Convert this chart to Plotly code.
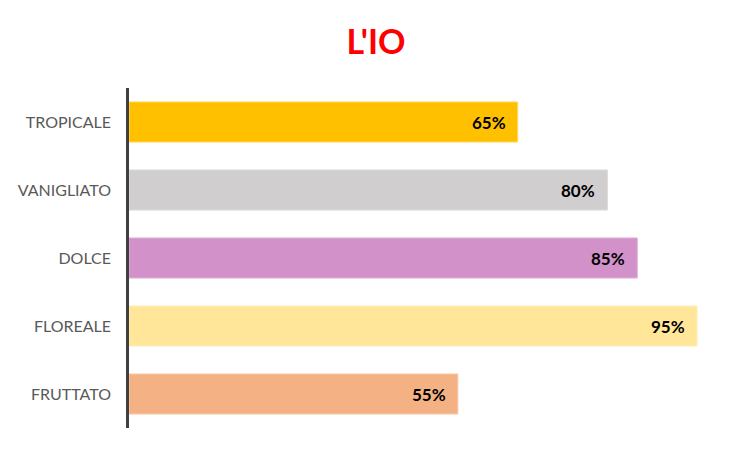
import plotly.graph_objs as go

# dati
categorie = ["TROPICALE", "VANIGLIATO", "DOLCE", "FLOREALE", "FRUTTATO"]
valori = [0.65, 0.80, 0.85, 0.95, 0.55]
colori = ["#FFC000", "#D0CECE", "#D291C9", "#FFE699", "#F4B183"]
bordi = ["#FFD966", "#DDDBDB", "#E0B2D9", "#FFF0C0", "#F8CBAD"]
etichette = ["65%", "80%", "85%", "95%", "55%"]

fig = go.Figure()

fig.add_trace(
    go.Bar(
        y=categorie,
        x=valori,
        orientation="h",
        width=0.59,
        marker=dict(color=colori, line=dict(color=bordi, width=1)),
        hoverinfo="skip",
    )
)

# etichette dei valori dentro la barra, vicino alla fine
for cat, val, et in zip(categorie, valori, etichette):
    fig.add_annotation(
        x=val, y=cat,
        text="<b>%s</b>" % et,
        showarrow=False,
        xanchor="right",
        xshift=-10,
        font=dict(family="Lato", size=17, color="black"),
    )

# la pagina ha 8px di margine, quindi la figura e' un po' piu' piccola
fig.update_layout(
    title=dict(
        text="<b>L'IO</b>",
        x=(376 - 8) / 744,
        xanchor="center",
        xref="container",
        y=1 - 34 / 444,
        yanchor="middle",
        font=dict(family="Lato", size=34, color="#FF0000"),
    ),
    width=744,
    height=444,
    margin=dict(l=121, r=25, t=80, b=24),
    paper_bgcolor="white",
    plot_bgcolor="white",
    showlegend=False,
)

fig.update_xaxes(range=[0, 1], visible=False)

fig.update_yaxes(
    categoryorder="array",
    categoryarray=categorie[::-1],
    showline=True,
    linecolor="#404040",
    linewidth=2.5,
    showgrid=False,
    ticks="",
    automargin=False,
    ticklabelstandoff=12,
    tickfont=dict(family="Lato", size=16, color="#595959"),
)

fig.write_html("out.html")
